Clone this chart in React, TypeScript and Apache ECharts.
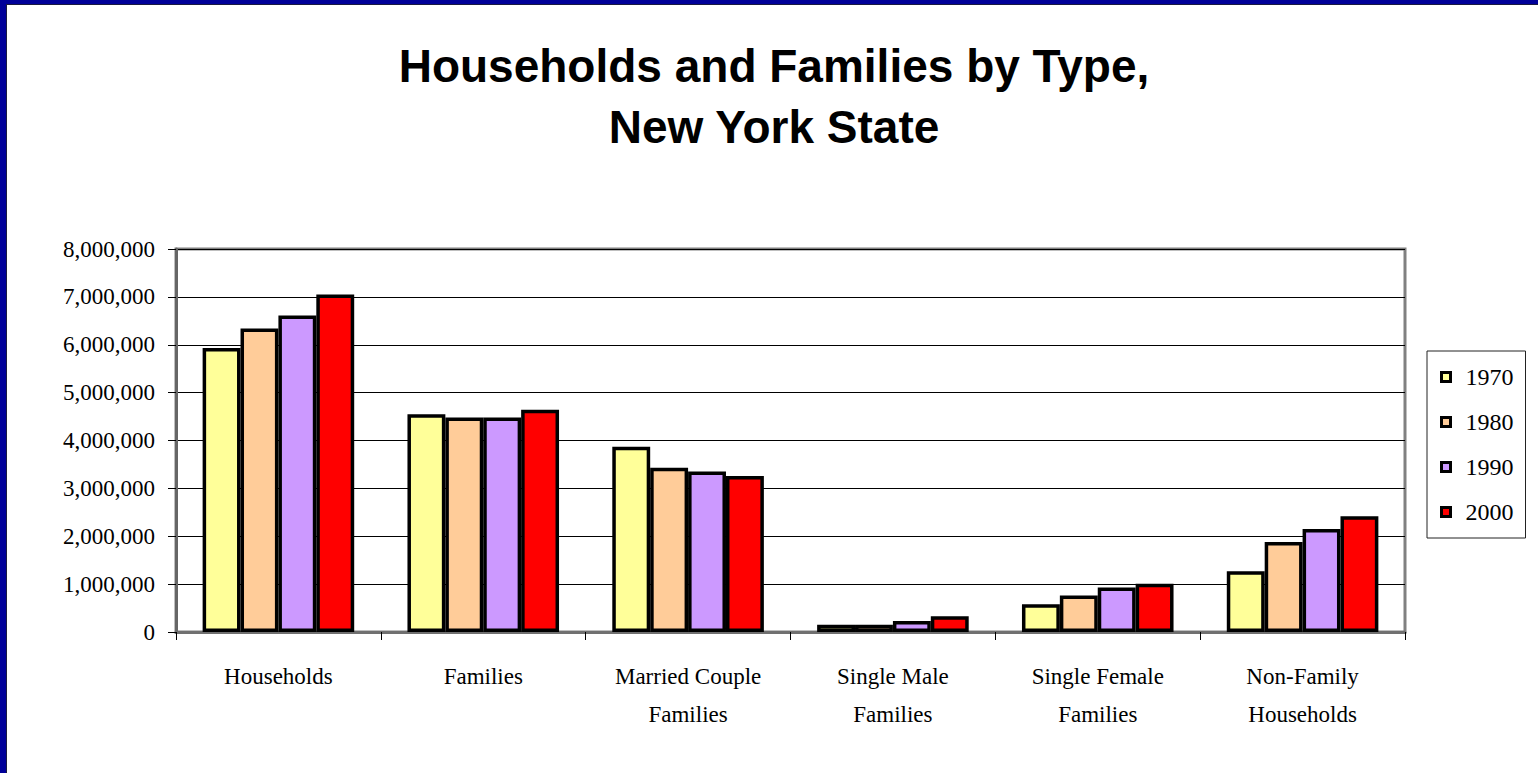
import React, { useEffect, useRef } from "react";
import * as echarts from "echarts";

const categories = [
  "Households",
  "Families",
  "Married Couple\nFamilies",
  "Single Male\nFamilies",
  "Single Female\nFamilies",
  "Non-Family\nHouseholds",
];
const years = ["1970", "1980", "1990", "2000"];
const v1970 = [5930000, 4550000, 3870000, 150000, 580000, 1270000];
const v1980 = [6340000, 4480000, 3430000, 150000, 760000, 1880000];
const v1990 = [6610000, 4480000, 3350000, 230000, 930000, 2150000];
const v2000 = [7050000, 4640000, 3260000, 330000, 1010000, 2420000];
const colors = ["#FFFF99", "#FFCC99", "#CC99FF", "#FF0000"];
const yTicks = { min: 0, max: 8000000, interval: 1000000 };

export default function App() {
  const ref = useRef<HTMLDivElement>(null);
  useEffect(() => {
    if (!ref.current) return;
    const chart = echarts.init(ref.current, null, { renderer: "svg" });
    const serif = "'Liberation Serif', 'Times New Roman', serif";
    const seriesData = [v1970, v1980, v1990, v2000];
    chart.setOption({
      animation: false,
      backgroundColor: "#ffffff",
      title: {
        text: "Households and Families by Type,\nNew York State",
        left: 769,
        top: 30,
        textAlign: "center",
        textStyle: {
          fontFamily: "'Liberation Sans', Arial, sans-serif",
          fontWeight: "bold",
          fontSize: 46,
          lineHeight: 61,
          color: "#000",
          align: "center",
        },
      },
      grid: {
        left: 176,
        top: 249,
        right: 133,
        bottom: 141,
        show: true,
        borderColor: "#808080",
        borderWidth: 3,
        containLabel: false,
      },
      legend: {
        orient: "vertical",
        left: 1427,
        top: 351,
        padding: [14, 12, 14, 13],
        itemWidth: 9,
        itemHeight: 9,
        itemGap: 21,
        icon: "rect",
        borderColor: "#222",
        borderWidth: 1,
        itemStyle: { borderColor: "#000", borderWidth: 3 },
        textStyle: {
          fontFamily: serif,
          fontSize: 24,
          color: "#000",
          padding: [0, 0, 0, 10],
        },
        data: years,
      },
      xAxis: {
        type: "category",
        data: categories,
        axisLine: { show: true, lineStyle: { color: "#707070", width: 3 } },
        axisTick: { show: true, length: 8, lineStyle: { color: "#000", width: 1 } },
        axisLabel: {
          fontFamily: serif,
          fontSize: 23,
          color: "#000",
          lineHeight: 38,
          margin: 25,
          interval: 0,
        },
        splitLine: { show: false },
      },
      yAxis: {
        type: "value",
        min: yTicks.min,
        max: yTicks.max,
        interval: yTicks.interval,
        axisLine: { show: true, lineStyle: { color: "#666", width: 3 } },
        axisTick: { show: true, length: 8, lineStyle: { color: "#000", width: 1 } },
        axisLabel: {
          fontFamily: serif,
          fontSize: 23,
          color: "#000",
          margin: 21,
          formatter: (v: number) => v.toLocaleString("en-US"),
        },
        splitLine: { show: true, lineStyle: { color: "#000", width: 1 } },
      },
      series: years.map((y, i) => ({
        name: y,
        type: "bar",
        data: seriesData[i],
        barGap: "0%",
        barCategoryGap: "26%",
        itemStyle: { color: colors[i], borderColor: "#000", borderWidth: 3.5 },
      })),
      graphic: [
        { type: "rect", shape: { x: 0, y: 0, width: 6, height: 773 }, style: { fill: "#000099" }, z: 100 },
        { type: "rect", shape: { x: 0, y: 0, width: 1538, height: 4 }, style: { fill: "#000099" }, z: 100 },
        { type: "line", shape: { x1: 6.5, y1: 4, x2: 6.5, y2: 773 }, style: { stroke: "#1a1a40", lineWidth: 1 }, z: 100 },
        { type: "line", shape: { x1: 6, y1: 4.5, x2: 1538, y2: 4.5 }, style: { stroke: "#1a1a40", lineWidth: 1 }, z: 100 },
      ],
    });
    return () => chart.dispose();
  }, []);
  return (
    <div
      ref={ref}
      style={{ position: "absolute", left: 0, top: 0, width: 1538, height: 773 }}
    />
  );
}
